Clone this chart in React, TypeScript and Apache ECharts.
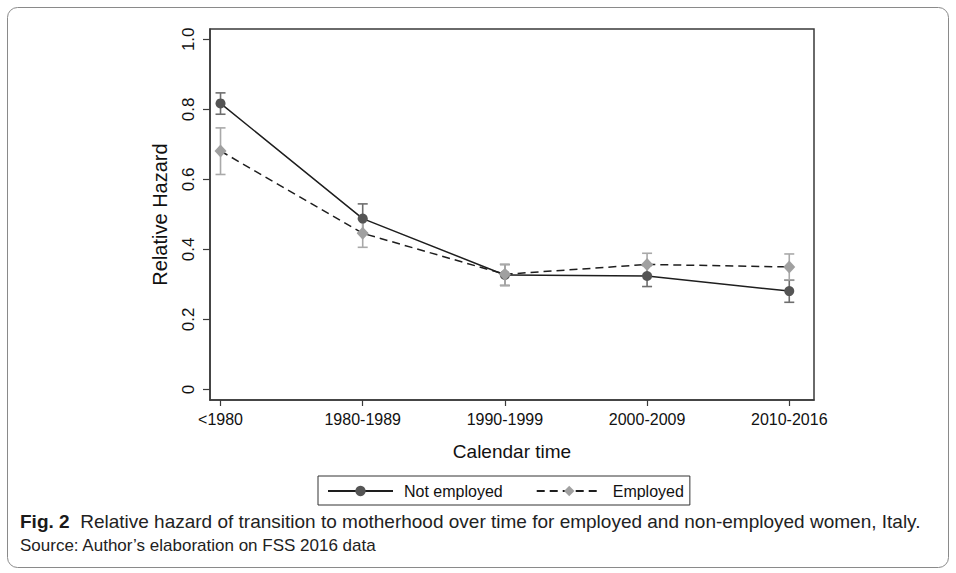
import React, { useEffect, useRef } from "react";
import * as echarts from "echarts";

const categories = ["<1980", "1980-1989", "1990-1999", "2000-2009", "2010-2016"];
const notEmployed = [0.817, 0.488, 0.327, 0.324, 0.281];
const notEmployedLow = [0.786, 0.447, 0.297, 0.294, 0.249];
const notEmployedHigh = [0.847, 0.530, 0.357, 0.354, 0.312];
const employed = [0.681, 0.446, 0.329, 0.357, 0.350];
const employedLow = [0.614, 0.406, 0.297, 0.326, 0.313];
const employedHigh = [0.747, 0.487, 0.357, 0.389, 0.387];
const yTicks = [0, 0.2, 0.4, 0.6, 0.8, 1.0];

const FONT = "'Liberation Sans', Arial, Helvetica, sans-serif";

function errorBars(color: string) {
  return (params: any, api: any) => {
    const x = api.value(0);
    const lo = api.coord([x, api.value(1)]);
    const hi = api.coord([x, api.value(2)]);
    const w = 5;
    const style = { stroke: color, lineWidth: 1.6 };
    return {
      type: "group",
      children: [
        { type: "line", shape: { x1: lo[0], y1: lo[1], x2: hi[0], y2: hi[1] }, style },
        { type: "line", shape: { x1: lo[0] - w, y1: lo[1], x2: lo[0] + w, y2: lo[1] }, style },
        { type: "line", shape: { x1: hi[0] - w, y1: hi[1], x2: hi[0] + w, y2: hi[1] }, style },
      ],
    };
  };
}

export default function App() {
  const ref = useRef<HTMLDivElement>(null);
  useEffect(() => {
    if (!ref.current) return;
    const chart = echarts.init(ref.current, null, { renderer: "svg" });
    const catIdx = categories.map((_, i) => i);
    chart.setOption({
      animation: false,
      backgroundColor: "#ffffff",
      textStyle: { fontFamily: FONT },
      grid: {
        left: 210,
        top: 29,
        right: 142,
        bottom: 173,
        show: true,
        borderColor: "#3a3a3a",
        borderWidth: 1.5,
        backgroundColor: "#ffffff",
      },
      xAxis: {
        type: "value",
        min: -0.074,
        max: 4.174,
        name: "Calendar time",
        nameLocation: "middle",
        nameGap: 42,
        nameTextStyle: { fontFamily: FONT, fontSize: 19, color: "#111" },
        axisLine: { show: true, onZero: false, lineStyle: { color: "#3a3a3a", width: 1.5 } },
        axisTick: { show: true, length: 6, customValues: catIdx, lineStyle: { color: "#3a3a3a", width: 1.2 } },
        axisLabel: {
          customValues: catIdx,
          margin: 11,
          fontFamily: FONT,
          fontSize: 16,
          color: "#111",
          formatter: (v: number) => categories[Math.round(v)] ?? "",
        },
        splitLine: { show: false },
      },
      yAxis: {
        type: "value",
        min: -0.03,
        max: 1.0294,
        name: "Relative Hazard",
        nameLocation: "middle",
        nameRotate: 90,
        nameGap: 40,
        nameTextStyle: { fontFamily: FONT, fontSize: 20, color: "#111" },
        axisLine: { show: true, onZero: false, lineStyle: { color: "#3a3a3a", width: 1.5 } },
        axisTick: { show: true, length: 7, customValues: yTicks, lineStyle: { color: "#3a3a3a", width: 1.2 } },
        axisLabel: {
          customValues: yTicks,
          rotate: 90,
          margin: 13,
          fontFamily: FONT,
          fontSize: 17,
          color: "#111",
          formatter: (v: number) => (Math.abs(v) < 1e-9 ? "0" : v.toFixed(1)),
        },
        splitLine: { show: false },
      },
      legend: {
        data: ["Not employed", "Employed"],
        left: 318,
        top: 476,
        orient: "horizontal",
        padding: [7, 6, 6, 9],
        itemGap: 33,
        itemWidth: 65,
        itemHeight: 13,
        borderColor: "#333",
        borderWidth: 1,
        textStyle: { fontFamily: FONT, fontSize: 16, color: "#111", padding: [0, 0, 0, 6] },
      },
      graphic: [
        {
          type: "rect",
          shape: { x: 7.5, y: 7.5, width: 941, height: 560, r: 10 },
          style: { fill: "none", stroke: "#8a8a8a", lineWidth: 1 },
          silent: true,
        },
        {
          type: "text",
          x: 20,
          y: 521,
          style: {
            text: "{b|Fig. 2}  Relative hazard of transition to motherhood over time for employed and non-employed women, Italy.",
            fontFamily: FONT,
            fontSize: 19,
            fill: "#222",
            verticalAlign: "middle",
            rich: {
              b: { fontFamily: FONT, fontSize: 19, fontWeight: "bold", fill: "#1a1a1a" },
            },
          },
        },
        {
          type: "text",
          x: 20,
          y: 545,
          style: {
            text: "Source: Author\u2019s elaboration on FSS 2016 data",
            fontFamily: FONT,
            fontSize: 17,
            fill: "#222",
            verticalAlign: "middle",
          },
        },
      ],
      series: [
        {
          name: "Not employed CI",
          type: "custom",
          renderItem: errorBars("#6e6e6e"),
          data: catIdx.map((i) => [i, notEmployedLow[i], notEmployedHigh[i]]),
          encode: { x: 0, y: [1, 2] },
          z: 1,
        },
        {
          name: "Employed CI",
          type: "custom",
          renderItem: errorBars("#a9a9a9"),
          data: catIdx.map((i) => [i, employedLow[i], employedHigh[i]]),
          encode: { x: 0, y: [1, 2] },
          z: 1,
        },
        {
          name: "Not employed",
          type: "line",
          data: catIdx.map((i) => [i, notEmployed[i]]),
          symbol: "circle",
          symbolSize: 10,
          itemStyle: { color: "#555555" },
          lineStyle: { color: "#1e1e1e", width: 1.5, type: "solid" },
          z: 3,
        },
        {
          name: "Employed",
          type: "line",
          data: catIdx.map((i) => [i, employed[i]]),
          symbol: "diamond",
          symbolSize: [12, 13],
          itemStyle: { color: "#a0a0a0" },
          lineStyle: { color: "#1e1e1e", width: 1.5, type: [8, 5] },
          z: 4,
        },
      ],
    });
    return () => chart.dispose();
  }, []);
  return (
    <div
      ref={ref}
      style={{ position: "fixed", left: 0, top: 0, width: 956, height: 573, background: "#fff" }}
    />
  );
}
